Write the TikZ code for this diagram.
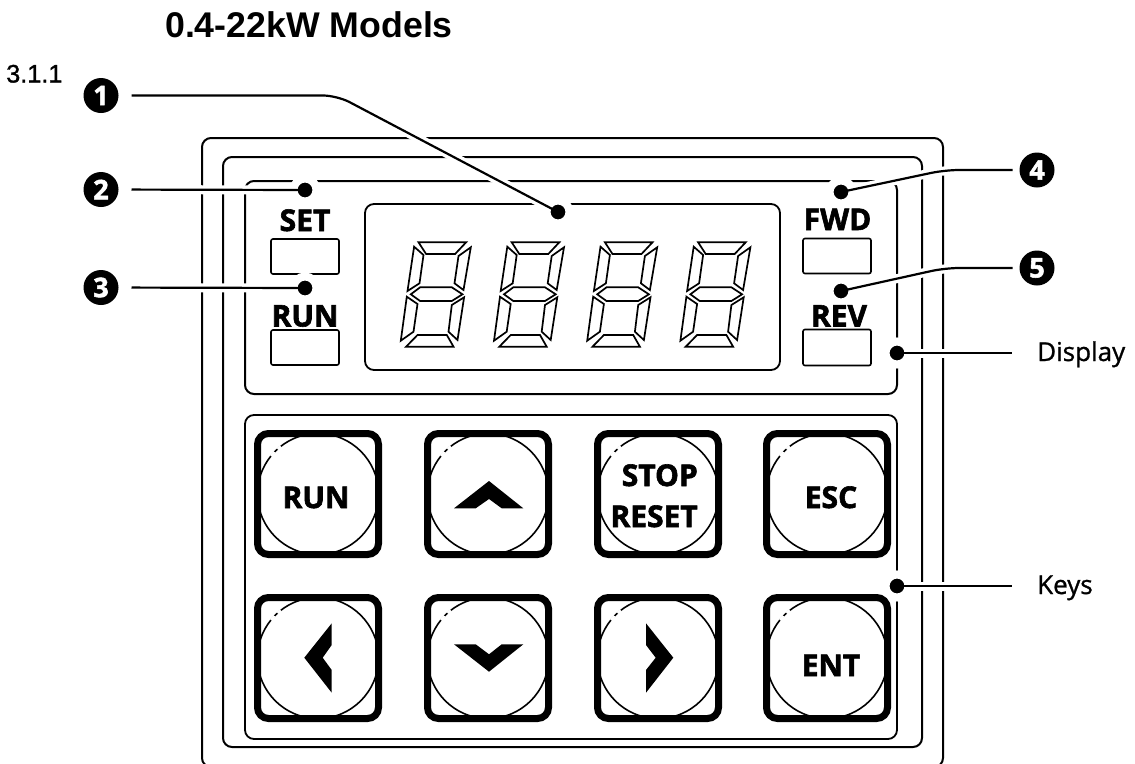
\documentclass[tikz,border=0pt]{standalone}
\usepackage{fontspec}
\setmainfont{Liberation Sans}
\newfontfamily\panelfont[BoldFeatures={FakeBold=2}]{Open Sans}
\newfontfamily\sidefont[FakeBold=1]{Open Sans}
\newfontfamily\sectionfont[FakeBold=1.2]{Liberation Sans}
\usetikzlibrary{calc}
\tikzset{
  frameline/.style={line width=2pt,rounded corners=9pt},
  boxline/.style={line width=1.6pt,rounded corners=2pt},
  segline/.style={line width=1.7pt,line join=miter},
  leader/.style={line width=2.2pt,rounded corners=14pt,
    preaction={draw=white,line width=9pt,shorten <=10pt}},
  dotmark/.style={circle,fill=black,draw=white,line width=8pt,minimum size=23pt,inner sep=0pt,outer sep=0pt},
  numbadge/.style={circle,fill=black,text=white,minimum size=35pt,inner sep=0pt,outer sep=0pt,
    font=\panelfont\bfseries\fontsize{27}{27}\selectfont},
  keyring/.style={circle,draw,line width=1.6pt,minimum size=121pt,inner sep=0pt,outer sep=0pt},
  keybox/.style={draw,line width=7pt,rounded corners=11pt,minimum size=121pt,inner sep=0pt,outer sep=0pt},
  keylabel/.style={inner sep=0pt,anchor=base,font=\panelfont\bfseries\fontsize{30}{30}\selectfont},
  sidelabel/.style={inner sep=0pt,anchor=base west,font=\sidefont\fontsize{26}{26}\selectfont},
}
\begin{document}
\begin{tikzpicture}[x=1pt,y=-1pt]
  \useasboundingbox (0,0) rectangle (1135,763);
  \node[inner sep=0pt,anchor=base west,font=\bfseries\fontsize{35.7}{36}\selectfont] (title) at (165,37) {0.4-22kW Models};
  \node[inner sep=0pt,anchor=base west,font=\sectionfont\fontsize{25.3}{26}\selectfont] (section) at (6,82.5) {3.1.1};
  % housing and panels
  \draw[frameline] (202,138) rectangle (943,767);
  \draw[frameline] (223,157) rectangle (922,747);
  \draw[frameline] (245,181) rectangle (897,394);
  \draw[frameline,line width=1.8pt] (245,415) rectangle (897,739);
  \draw[frameline,line width=1.8pt] (365,204) rectangle (780,370);
  \node[draw,boxline,minimum width=68pt,minimum height=35pt,inner sep=0pt] (setlamp) at (305,256.5) {};
  \node[draw,boxline,minimum width=68pt,minimum height=35pt,inner sep=0pt] (runlamp) at (305,347.5) {};
  \node[draw,boxline,minimum width=68pt,minimum height=35pt,inner sep=0pt] (fwdlamp) at (837,256) {};
  \node[draw,boxline,minimum width=68pt,minimum height=36pt,inner sep=0pt] (revlamp) at (837,347.5) {};
  % seven segment digits
  \foreach \dx in {396.8,490,583.2,676.4}
    \draw[segline,shift={(\dx,230)}]
      (21.7,12.3) -- (69.3,12.3) -- (58.3,24) -- (29.3,24) -- cycle
      (17.3,16.7) -- (26.7,25) -- (22.7,53.3) -- (10.7,61) -- cycle
      (74,17.3) -- (66.7,60) -- (57.7,53.3) -- (61.7,26) -- cycle
      (14,64.3) -- (23.3,57.3) -- (55,57.3) -- (65.7,64.3) -- (55,71) -- (23.3,71) -- cycle
      (10,66.7) -- (20.7,74) -- (16.7,101.7) -- (4,110.7) -- cycle
      (67.3,67.3) -- (60.7,110) -- (51.7,101.7) -- (55,75) -- cycle
      (9.3,116.7) -- (20.7,105) -- (50,105) -- (56.7,116.7) -- cycle;
  % callouts
  \node[numbadge] (num1) at (101,95.5) {1};
  \node[numbadge] (num2) at (101,189.5) {2};
  \node[numbadge] (num3) at (101,287.5) {3};
  \node[numbadge] (num4) at (1037,170) {4};
  \node[numbadge] (num5) at (1037,268) {5};
  \node[sidelabel] (displaylabel) at (1037,361) {Display};
  \node[sidelabel] (keyslabel) at (1037,594) {Keys};
  \node[dotmark] (dot1) at (558,212) {};
  \node[dotmark] (dot2) at (305,190) {};
  \node[dotmark] (dot3) at (305,288) {};
  \node[dotmark] (dot4) at (841,192) {};
  \node[dotmark] (dot5) at (841,291) {};
  \node[dotmark] (dot6) at (897,353) {};
  \node[dotmark] (dot7) at (897,586) {};
  \coordinate (bend1) at (337,95.5);
  \coordinate (bend4) at (945,170);
  \coordinate (bend5) at (945,268);
  \draw[leader,shorten >=13pt] (dot1.center) -- (bend1) -- (num1);
  \draw[leader,shorten >=13pt] (dot2.center) -- (num2);
  \draw[leader,shorten >=13pt] (dot3.center) -- (num3);
  \draw[leader,shorten >=7pt] (dot4.center) -- (bend4) -- (num4);
  \draw[leader,shorten >=7pt] (dot5.center) -- (bend5) -- (num5);
  \draw[leader,shorten >=25pt] (dot6.center) -- (displaylabel.west |- dot6);
  \draw[leader,shorten >=25pt] (dot7.center) -- (keyslabel.west |- dot7);
  % lamp labels
  \node[keylabel] (settext) at (305,231) {SET};
  \node[keylabel] (runtext) at (305,326.5) {RUN};
  \node[keylabel] (fwdtext) at (837.5,230) {FWD};
  \node[keylabel] (revtext) at (839,326.5) {REV};
  % keys
  \foreach \keyname/\x/\y in {krun/318/494,kup/488/494,kstop/658/494,kesc/827/494,
                              kleft/318/658,kdown/488/658,kright/658/658,kent/827/658} {
    \node[keyring] (\keyname ring) at (\x,\y) {};
    \draw[white,line width=2.6pt] (\keyname ring.136) arc[start angle=136,end angle=141,radius=60.5pt];
    \draw[white,line width=2.6pt] (\keyname ring.128) arc[start angle=128,end angle=132,radius=60.5pt];
    \node[keybox] (\keyname) at (\x,\y) {};
  }
  \node[keylabel] at (316,508) {RUN};
  \node[keylabel] at (831,508) {ESC};
  \node[keylabel,anchor=base east] at (698,486) {STOP};
  \node[keylabel,anchor=base east] at (698,527) {RESET};
  \node[keylabel] at (831,676) {ENT};
  \fill (454,508.3) -- (489,481) -- (523.3,508.3) -- (501.7,508.3) -- (489,499) -- (475.7,508.3) -- cycle;
  \fill (454,644.3) -- (475.7,644.3) -- (489,654.3) -- (501.7,644.3) -- (523.3,644.3) -- (489,671.7) -- cycle;
  \fill (331.7,623.3) -- (304.3,657.7) -- (331.7,692.7) -- (331.7,670) -- (322.7,657.7) -- (331.7,645) -- cycle;
  \fill (646,623.3) -- (673.3,657.7) -- (646,692.7) -- (646,670) -- (655.7,657.7) -- (646,645) -- cycle;
\end{tikzpicture}
\end{document}
